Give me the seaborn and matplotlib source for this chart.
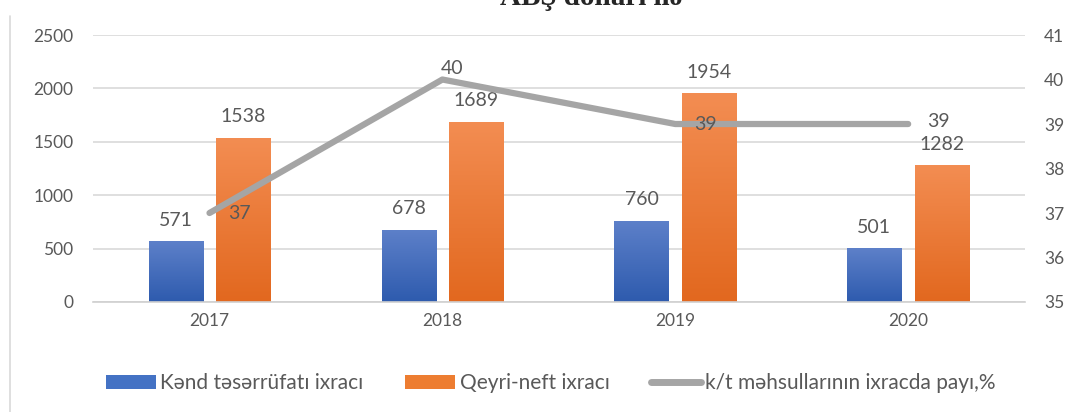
import numpy as np
import pandas as pd
import matplotlib
matplotlib.use("Agg")
import matplotlib.pyplot as plt
from matplotlib.colors import LinearSegmentedColormap
from matplotlib.lines import Line2D
from matplotlib.patches import Patch
import seaborn as sns

# chart data
years = ["2017", "2018", "2019", "2020"]
agri_export = [571, 678, 760, 501]
nonoil_export = [1538, 1689, 1954, 1282]
agri_share = [37, 40, 39, 39]

series_names = ["Kənd təsərrüfatı ixracı", "Qeyri-neft ixracı"]
line_name = "k/t məhsullarının ixracda payı,%"
title_text = "ABŞ dolları ilə"

sns.set_theme(style="white")
plt.rcParams["font.family"] = ["Lato", "DejaVu Sans"]

df = pd.DataFrame({
    "year": years * 2,
    "value": agri_export + nonoil_export,
    "series": [series_names[0]] * 4 + [series_names[1]] * 4,
})

blue = "#4472C4"
orange = "#ED7D31"
grey = "#A5A5A5"
txt = "#595959"

fig = plt.figure(figsize=(10.72, 4.12), dpi=100)
ax = fig.add_axes([0.0868, 0.267, 0.869, 0.648])

sns.barplot(data=df, x="year", y="value", hue="series", order=years,
            hue_order=series_names, palette=[blue, orange], width=0.58,
            gap=0.2, legend=False, ax=ax, zorder=2)

ax.set_ylim(0, 2500)
ax.set_xlim(-0.5, 3.5)
ax.set_yticks(range(0, 2501, 500))
ax.grid(axis="y", color="#D9D9D9", lw=1.2, zorder=0)
ax.set_axisbelow(True)
for s in ["top", "left", "right"]:
    ax.spines[s].set_visible(False)
ax.spines["bottom"].set_color("#D0D0D0")
ax.spines["bottom"].set_linewidth(1.2)
ax.set_xlabel("")
ax.set_ylabel("")
ax.tick_params(axis="both", length=0, labelsize=12.5, labelcolor=txt, pad=8)
ax.tick_params(axis="y", pad=14)

# gradient fill for bars
grads = {
    blue: LinearSegmentedColormap.from_list("b", ["#2E5BAE", "#5D80C9"]),
    orange: LinearSegmentedColormap.from_list("o", ["#E2681F", "#F38D52"]),
}
for i, p in enumerate(ax.patches):
    x0, y0 = p.get_x(), p.get_y()
    w, h = p.get_width(), p.get_height()
    cmap = grads[blue] if i < 4 else grads[orange]
    grad = np.linspace(0, 1, 100).reshape(-1, 1)
    im = ax.imshow(grad, cmap=cmap, origin="lower", aspect="auto",
                   extent=[x0, x0 + w, y0, y0 + h], zorder=2)
    im.set_clip_path(p)
    p.set_facecolor("none")
    p.set_edgecolor("none")
ax.set_xlim(-0.5, 3.5)
ax.set_ylim(0, 2500)

for cont in ax.containers:
    ax.bar_label(cont, padding=9, fontsize=14, color=txt)

ax2 = ax.twinx()
ax2.plot(range(len(years)), agri_share, color=grey, lw=4.5,
         solid_capstyle="round", zorder=3)
ax2.set_ylim(35, 41)
ax2.set_yticks(range(35, 42))
for s in ax2.spines.values():
    s.set_visible(False)
ax2.tick_params(axis="y", length=0, labelsize=12.5, labelcolor=txt, pad=14)
ax2.grid(False)

offsets = [(0.13, 0.0), (0.04, 0.25), (0.13, 0.0), (0.13, 0.05)]
for i, v in enumerate(agri_share):
    dx, dy = offsets[i]
    ax2.text(i + dx, v + dy, str(v), ha="center", va="center",
             fontsize=14, color=txt, zorder=4)

handles = [Patch(facecolor=blue, edgecolor="none"),
           Patch(facecolor=orange, edgecolor="none"),
           Line2D([0], [0], color=grey, lw=5, solid_capstyle="round")]
fig.legend(handles, series_names + [line_name], loc="center",
           bbox_to_anchor=(0.514, 0.070), ncol=3, frameon=False,
           fontsize=15, labelcolor=txt, handlelength=2.4, handleheight=0.7,
           handletextpad=0.2, columnspacing=2.0)

# title sits mostly above the top edge, as in the source image
fig.text(0.552, 0.988, title_text, ha="center", va="baseline",
         fontsize=21, fontweight="bold", family=["Liberation Serif", "DejaVu Serif"])

fig.add_artist(Line2D([0.0095, 0.0095], [0.0, 0.96], color="#D9D9D9", lw=1.2))

fig.savefig("out.png", dpi=100)
